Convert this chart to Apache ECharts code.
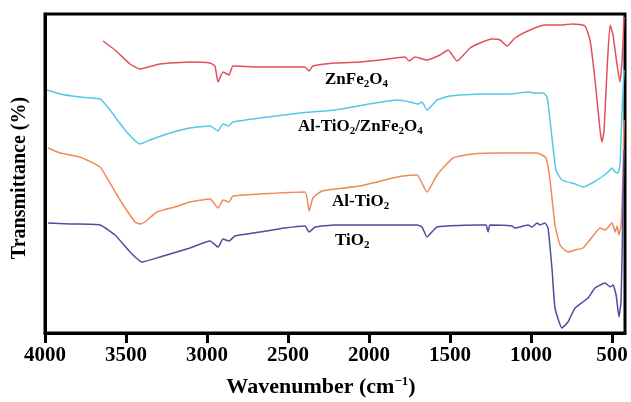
<!DOCTYPE html>
<html>
<head>
<meta charset="utf-8">
<script src="https://cdn.jsdelivr.net/npm/echarts@6/dist/echarts.min.js"></script>
<style>html,body{margin:0;padding:0;background:#fff}#c{width:631px;height:402px}</style>
</head>
<body>
<div id="c"></div>
<script>
// Wavenumber (cm^-1) and transmittance (offset, arbitrary units) per spectrum
var znfeWn = [3642,3568,3475,3414,3290,3105,2981,2951,2932,2901,2864,2840,2673,2395,2370,2346,2210,2056,1932,1778,1753,1716,1642,1562,1512,1457,1376,1315,1241,1191,1148,1099,1006,914,821,741,667,636,605,574,562,549,531,512,494,469,451,438,426];
var znfeT  = [292,283,269,264,269,271,270,267,251,261,258,267,266,266,262,267,270,271,273,276,272,276,273,278,283,272,285,290,294,293,287,295,303,308,308,309,307,293,253,203,191,203,263,308,298,268,251,273,316];

var alznWn = [3988,3907,3784,3660,3599,3506,3414,3352,3228,3105,2981,2932,2901,2870,2840,2673,2426,2210,1827,1747,1697,1673,1642,1580,1500,1315,1130,1018,975,926,901,876,846,809,728,679,623,555,525,500,481,463,451,438,426];
var alznT  = [243,239,236,234,223,203,189,193,200,205,207,202,209,207,211,215,220,223,233,231,229,231,223,233,237,239,239,241,240,240,236,203,163,153,149,146,150,157,161,165,161,160,168,223,263];

var altiWn = [3981,3907,3784,3660,3617,3537,3444,3414,3383,3309,3198,3105,2981,2932,2901,2864,2840,2673,2395,2370,2346,2290,2210,2056,1852,1790,1704,1642,1580,1481,1358,1191,963,907,883,852,821,772,728,679,623,574,543,500,481,469,457,444,432,426];
var altiT  = [185,180,176,166,155,133,111,109,111,121,126,131,134,125,133,131,137,139,141,122,135,142,144,147,155,157,158,141,158,175,179,180,180,175,153,108,88,81,83,85,96,105,103,110,101,107,98,108,163,213];

var tiWn = [3981,3846,3660,3568,3475,3401,3290,3105,2981,2932,2901,2864,2827,2673,2519,2395,2370,2333,2210,1704,1673,1642,1580,1315,1278,1265,1253,1117,1099,1018,994,963,944,914,895,870,852,809,772,728,648,605,543,512,494,475,457,444,432,426];
var tiT  = [110,109,108,98,81,71,76,85,92,86,94,92,97,101,105,107,101,106,108,108,106,96,106,108,108,101,108,107,105,108,106,110,108,110,105,63,25,5,11,25,35,45,50,46,48,38,16,33,133,183];

var xTicks = [4000,3500,3000,2500,2000,1500,1000,500];

function pairs(xs, ys){ return xs.map(function(x,i){ return [x, ys[i]]; }); }

var serif = '"Liberation Serif","Times New Roman",serif';
var chart = echarts.init(document.getElementById('c'), null, {renderer:'canvas'});

function lbl(text, left, top){
  return {
    type:'text', left:left, top:top, z:100,
    style:{
      text:text,
      rich:{
        n:{fontFamily:serif, fontWeight:'bold', fontSize:17, fill:'#000', lineHeight:20},
        s:{fontFamily:serif, fontWeight:'bold', fontSize:11, fill:'#000', lineHeight:20, verticalAlign:'bottom', padding:[4,0,0,0]}
      }
    }
  };
}

chart.setOption({
  animation:false,
  backgroundColor:'#fff',
  grid:{left:45, right:6, top:14, bottom:69, show:true, borderColor:'#000', borderWidth:3},
  xAxis:{
    type:'value', inverse:true, min:420, max:4000,
    axisLine:{show:true, lineStyle:{color:'#000', width:3}},
    axisTick:{show:true, customValues:xTicks, length:10, lineStyle:{color:'#000', width:3}},
    axisLabel:{customValues:xTicks, margin:12, color:'#000', fontFamily:serif, fontWeight:'bold', fontSize:21,
      formatter:function(v){ return String(v); }},
    splitLine:{show:false}
  },
  yAxis:{
    type:'value', min:0, max:319,
    axisLine:{show:true, lineStyle:{color:'#000', width:3}},
    axisTick:{show:false}, axisLabel:{show:false}, splitLine:{show:false}
  },
  series:[
    {name:'ZnFe2O4', type:'line', data:pairs(znfeWn, znfeT), showSymbol:false, smooth:0.15, lineStyle:{color:'#e2505e', width:1.5}},
    {name:'Al-TiO2/ZnFe2O4', type:'line', data:pairs(alznWn, alznT), showSymbol:false, smooth:0.15, lineStyle:{color:'#52c8e6', width:1.5}},
    {name:'Al-TiO2', type:'line', data:pairs(altiWn, altiT), showSymbol:false, smooth:0.15, lineStyle:{color:'#ee8b57', width:1.5}},
    {name:'TiO2', type:'line', data:pairs(tiWn, tiT), showSymbol:false, smooth:0.15, lineStyle:{color:'#4e4ea0', width:1.5}}
  ],
  graphic:[
    lbl('{n|ZnFe}{s|2}{n|O}{s|4}', 325, 71),
    lbl('{n|Al-TiO}{s|2}{n|/ZnFe}{s|2}{n|O}{s|4}', 298, 118),
    lbl('{n|Al-TiO}{s|2}', 332, 193),
    lbl('{n|TiO}{s|2}', 335, 232),
    {type:'text', x:321, y:387, z:100, style:{text:'{t|Wavenumber (cm}{p|−1}{t|)}', align:'center', verticalAlign:'middle',
      rich:{t:{fontFamily:serif, fontWeight:'bold', fontSize:22, fill:'#000', lineHeight:24},
            p:{fontFamily:serif, fontWeight:'bold', fontSize:13, fill:'#000', lineHeight:24, verticalAlign:'top', padding:[0,0,8,0]}}}},
    {type:'text', x:20, y:178, rotation:Math.PI/2, z:100, style:{text:'Transmittance (%)', align:'center', verticalAlign:'middle',
      fontFamily:serif, fontWeight:'bold', fontSize:20, fill:'#000'}}
  ]
});
</script>
</body>
</html>
